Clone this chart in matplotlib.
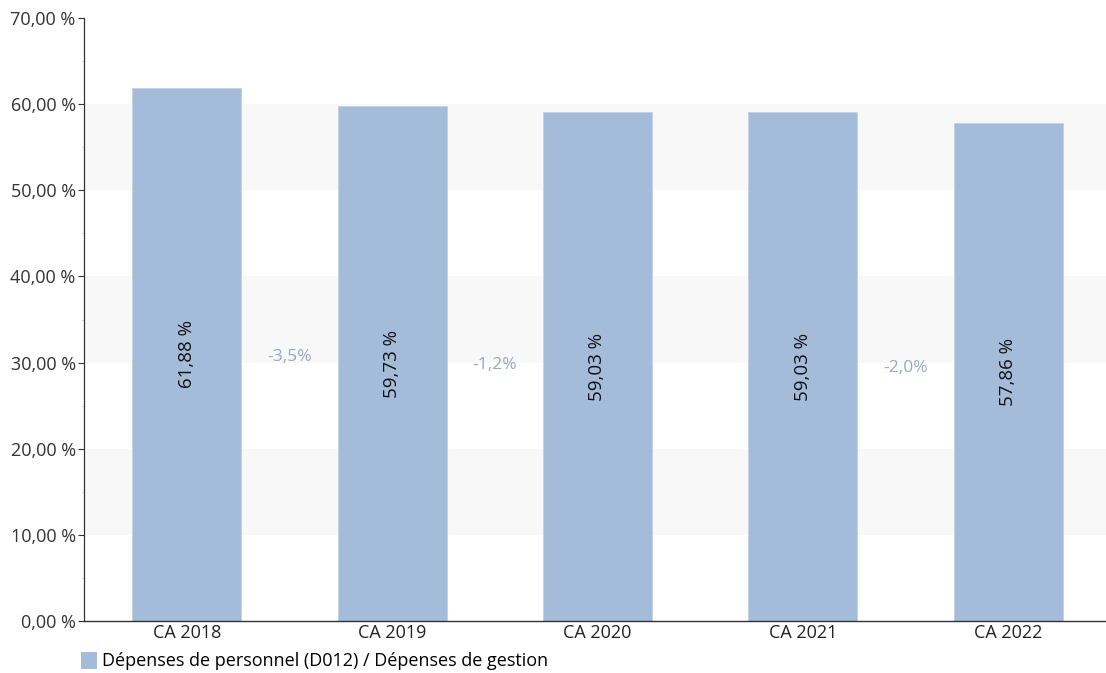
import matplotlib
matplotlib.use("Agg")
import matplotlib.pyplot as plt
from matplotlib.patches import Patch

categories = ["CA 2018", "CA 2019", "CA 2020", "CA 2021", "CA 2022"]
values = [61.88, 59.73, 59.03, 59.03, 57.86]
value_labels = ["61,88 %", "59,73 %", "59,03 %", "59,03 %", "57,86 %"]
# evolution labels between consecutive bars: (left index, text, y position value)
evol_pairs = [0, 1, 3]
evol_texts = ["-3,5%", "-1,2%", "-2,0%"]
evol_y = [30.7, 29.7, 29.4]
yticks = [0, 10, 20, 30, 40, 50, 60, 70]
ytick_labels = ["0,00 %", "10,00 %", "20,00 %", "30,00 %", "40,00 %", "50,00 %", "60,00 %", "70,00 %"]
legend_label = "Dépenses de personnel (D012) / Dépenses de gestion"

plt.rcParams['font.family'] = ['Open Sans', 'DejaVu Sans']

fig = plt.figure(figsize=(11.06, 6.73), dpi=100)
W, H = 1106, 673
ax = fig.add_axes([84 / W, 1 - 621 / H, (1111 - 84) / W, (621 - 18) / H])

bar_color = "#a4bbd9"
x = list(range(len(categories)))
ax.bar(x, values, width=0.53, color=bar_color, edgecolor="#c2d1e6", linewidth=0.6, zorder=2)

ax.set_xlim(-0.5, len(categories) - 0.5)
ax.set_ylim(0, 70)

# alternating bands
for lo in [10, 30, 50]:
    ax.axhspan(lo, lo + 10, color="#f8f8f8", zorder=0, linewidth=0)

ax.set_yticks(yticks)
ax.set_yticklabels(ytick_labels)
ax.set_yticks([5, 15, 25, 35, 45, 55, 65], minor=True)
ax.tick_params(axis="y", which="major", length=4, width=0.8, color="#333333",
               labelsize=13, labelcolor="#333333", pad=2)
ax.tick_params(axis="y", which="minor", length=2, width=0.6, color="#f8d0d0")
ax.set_xticks(x)
ax.set_xticklabels(categories)
ax.tick_params(axis="x", length=0, labelsize=13, labelcolor="#222222", pad=2)

for s in ["top", "right"]:
    ax.spines[s].set_visible(False)
ax.spines["left"].set_color("#333333")
ax.spines["bottom"].set_color("#333333")
ax.spines["left"].set_linewidth(0.9)
ax.spines["bottom"].set_linewidth(1.0)

for xi, v, lab in zip(x, values, value_labels):
    ax.text(xi, v / 2, lab, rotation=90, ha="center", va="center",
            fontsize=13.5, color="#111111", zorder=3)

for i, t, yv in zip(evol_pairs, evol_texts, evol_y):
    ax.text(i + 0.5, yv, t, ha="center", va="center", fontsize=12.5,
            color="#9aa8c2", zorder=3)

handle = Patch(facecolor=bar_color, edgecolor="none")
fig.legend([handle], [legend_label], loc="center left",
           bbox_to_anchor=(74 / W, 1 - 661 / H), frameon=False, fontsize=13,
           handlelength=0.85, handleheight=1.1, handletextpad=0.3,
           borderaxespad=0.0)

fig.savefig("out.png", dpi=100)
